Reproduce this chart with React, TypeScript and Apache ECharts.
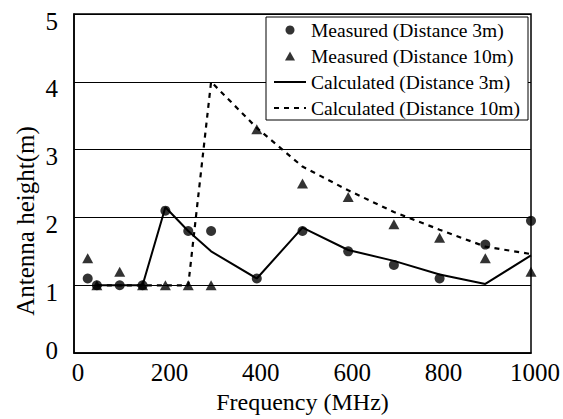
import React, { useEffect, useRef } from "react";
import * as echarts from "echarts";

const measuredFreqs = [30, 50, 100, 150, 200, 250, 300, 400, 500, 600, 700, 800, 900, 1000];
const measured3m = [1.1, 1.0, 1.0, 1.0, 2.1, 1.8, 1.8, 1.1, 1.8, 1.5, 1.3, 1.1, 1.6, 1.95];
const measured10m = [1.4, 1.0, 1.2, 1.0, 1.0, 1.0, 1.0, 3.3, 2.5, 2.3, 1.9, 1.7, 1.4, 1.2];
const calcFreqs = [50, 100, 150, 200, 250, 300, 400, 500, 600, 700, 800, 900, 1000];
const calculated3m = [1.0, 1.0, 1.0, 2.15, 1.8, 1.5, 1.1, 1.85, 1.52, 1.36, 1.16, 1.02, 1.44];
const calculated10m = [1.0, 1.0, 1.0, 1.0, 1.0, 4.0, 3.32, 2.75, 2.4, 2.08, 1.82, 1.57, 1.46];

const seriesNames = [
  "Measured (Distance 3m)",
  "Measured (Distance 10m)",
  "Calculated (Distance 3m)",
  "Calculated (Distance 10m)",
];
const xTitle = "Frequency (MHz)";
const yTitle = "Antenna height(m)";

const FONT = "Liberation Serif, DejaVu Serif, Times New Roman, serif";

function pairs(xs: number[], ys: number[]) {
  return xs.map((x, i) => [x, ys[i]]);
}

export default function App() {
  const ref = useRef<HTMLDivElement>(null);
  useEffect(() => {
    document.body.style.margin = "0";
    if (!ref.current) return;
    const chart = echarts.init(ref.current, undefined, { renderer: "svg" });
    chart.setOption({
      animation: false,
      backgroundColor: "#fff",
      textStyle: { fontFamily: FONT, color: "#000" },
      grid: {
        left: 74,
        top: 14,
        width: 457,
        height: 341,
        show: true,
        borderColor: "#000",
        borderWidth: 1.5,
        backgroundColor: "transparent",
      },
      xAxis: {
        type: "value",
        min: 0,
        max: 1000,
        interval: 200,
        name: xTitle,
        nameLocation: "middle",
        nameGap: 36,
        nameTextStyle: { fontFamily: FONT, fontSize: 24, color: "#000" },
        axisLine: { show: true, lineStyle: { color: "#000", width: 1.5 } },
        axisTick: { show: false },
        splitLine: { show: false },
        axisLabel: {
          fontFamily: FONT,
          fontSize: 25,
          color: "#000",
          margin: 7,
          padding: [0, 0, 0, 8],
          formatter: (v: number) => String(v),
        },
      },
      yAxis: {
        type: "value",
        min: 0,
        max: 5,
        interval: 1,
        axisLine: { show: true, lineStyle: { color: "#000", width: 1.5 } },
        axisTick: { show: false },
        splitLine: { show: true, lineStyle: { color: "#000", width: 1.2 } },
        axisLabel: {
          fontFamily: FONT,
          fontSize: 25,
          color: "#000",
          margin: 16,
          formatter: (v: number) => (v === 0 ? "{z|0}" : "{n|" + v + "}"),
          rich: {
            n: { fontFamily: FONT, fontSize: 25, color: "#000", padding: [14, 0, 0, 0] },
            z: { fontFamily: FONT, fontSize: 25, color: "#000", padding: [0, 0, 6, 0] },
          },
        },
      },
      legend: {
        data: [
          { name: seriesNames[0], icon: "circle" },
          { name: seriesNames[1], icon: "path://M5,0 L10,9 L0,9 Z" },
          { name: seriesNames[2] },
          { name: seriesNames[3] },
        ],
        orient: "vertical",
        left: 266,
        top: 17,
        padding: [3, 8, 2, 7],
        itemGap: 6,
        itemWidth: 32,
        itemHeight: 9,
        symbolKeepAspect: true,
        borderColor: "#000",
        borderWidth: 1,
        backgroundColor: "#fff",
        textStyle: { fontFamily: FONT, fontSize: 19.5, color: "#000", lineHeight: 20 },
      },
      graphic: [
        {
          type: "text",
          x: 25,
          y: 221,
          rotation: Math.PI / 2,
          style: {
            text: yTitle,
            fontFamily: FONT,
            fontSize: 25,
            fill: "#000",
            textAlign: "center",
            textVerticalAlign: "middle",
          },
        },
      ],
      series: [
        {
          name: seriesNames[2],
          type: "line",
          data: pairs(calcFreqs, calculated3m),
          symbol: "none",
          lineStyle: { color: "#000", width: 2, type: "solid" },
          itemStyle: { color: "rgba(0,0,0,0)" },
          z: 2,
        },
        {
          name: seriesNames[3],
          type: "line",
          data: pairs(calcFreqs, calculated10m),
          symbol: "none",
          lineStyle: { color: "#000", width: 2.2, type: [5, 5] },
          itemStyle: { color: "rgba(0,0,0,0)" },
          z: 2,
        },
        {
          name: seriesNames[0],
          type: "scatter",
          data: pairs(measuredFreqs, measured3m),
          symbol: "circle",
          symbolSize: 10,
          itemStyle: { color: "#000" },
          z: 4,
        },
        {
          name: seriesNames[1],
          type: "scatter",
          data: pairs(measuredFreqs, measured10m),
          symbol: "triangle",
          symbolSize: [11, 10],
          itemStyle: { color: "#000" },
          z: 4,
        },
      ],
    });
    return () => chart.dispose();
  }, []);
  return <div ref={ref} style={{ width: 563, height: 419 }} />;
}
